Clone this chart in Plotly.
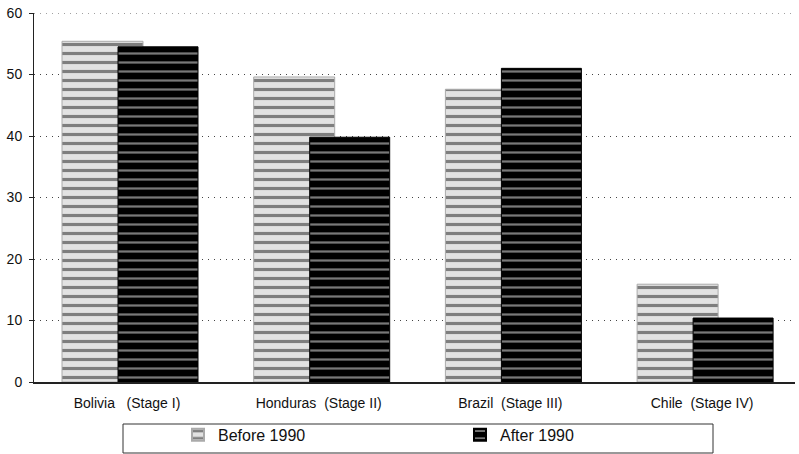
import plotly.graph_objects as go

categories = ["Bolivia   (Stage I)", "Honduras  (Stage II)", "Brazil  (Stage III)", "Chile  (Stage IV)"]
before_1990 = [55.4, 49.6, 47.6, 15.9]
after_1990 = [54.5, 39.8, 51.0, 10.4]
y_ticks = [0, 10, 20, 30, 40, 50, 60]

L, R, T, B = 34, 4, 13, 72
W, H = 799, 454
pw = W - L - R
ph = H - T - B
unit = 191.7
r0 = -(132 - L) / unit
r1 = r0 + pw / unit

fig = go.Figure()
fig.add_trace(go.Bar(
    x=categories, y=before_1990, name="Before 1990",
    offset=-70 / unit, width=81 / unit,
    marker=dict(color="#dcdcdc", line=dict(color="#aaaaaa", width=1),
                pattern=dict(shape="-", fgcolor="#1a1a1a", bgcolor="#e2e2e2",
                             size=9, solidity=0.35)),
))
fig.add_trace(go.Bar(
    x=categories, y=after_1990, name="After 1990",
    offset=-14 / unit, width=80 / unit,
    marker=dict(color="#000000", line=dict(color="#000000", width=1),
                pattern=dict(shape="-", fgcolor="#f0f0f0", bgcolor="#000000",
                             size=9, solidity=0.25)),
))

fig.update_layout(
    barmode="overlay",
    width=W, height=H,
    margin=dict(l=L, r=R, t=T, b=B),
    paper_bgcolor="white", plot_bgcolor="white",
    font=dict(family="Liberation Sans, Arial, sans-serif", size=12, color="#111111"),
    showlegend=True,
    legend=dict(orientation="h", xref="container", yref="container",
                x=178 / W, y=0.005, xanchor="left", yanchor="bottom",
                entrywidth=237, font=dict(size=16), bgcolor="rgba(0,0,0,0)",
                itemsizing="constant"),
    shapes=[
        dict(type="rect", xref="paper", yref="paper",
             x0=(123 - L) / pw, x1=(713 - L) / pw,
             y0=-(424 - (H - B)) / ph, y1=-(453 - (H - B)) / ph,
             line=dict(color="#333333", width=1)),
        dict(type="line", xref="paper", yref="y", x0=0, x1=1, y0=60, y1=60,
             line=dict(color="#444444", width=1, dash="1px,5px"), layer="below"),
    ],
)
fig.update_xaxes(range=[r0, r1], showline=True, linecolor="#222222", linewidth=1.5,
                 ticks="", showgrid=False, tickfont=dict(size=14), ticklabelshift=-5,
                 ticklabelstandoff=7)
fig.update_yaxes(range=[0, 60], tickvals=y_ticks, showline=True, linecolor="#222222",
                 linewidth=1, ticks="outside", ticklen=4, tickcolor="#222222",
                 showgrid=True, gridcolor="#444444", griddash="1px,5px", gridwidth=1,
                 tickfont=dict(size=14), zeroline=False, ticklabelstandoff=4)

fig.write_html("out.html")
